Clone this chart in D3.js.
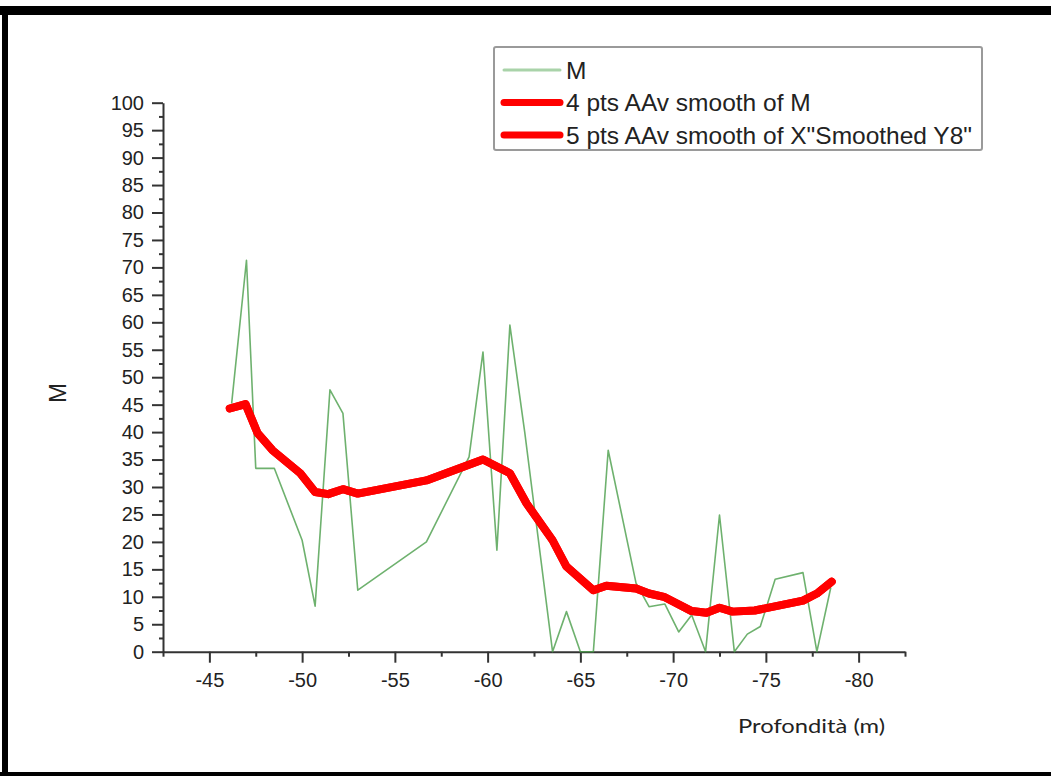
<!DOCTYPE html>
<html>
<head>
<meta charset="utf-8">
<script src="https://cdn.jsdelivr.net/npm/d3@7"></script>
<style>
  body { margin: 0; background: #fff; }
  svg { display: block; font-family: "Liberation Sans", Arial, sans-serif; }
  .axis path, .axis line { stroke: #333; stroke-width: 2; }
  .axis text { fill: #222; font-size: 20px; }
</style>
</head>
<body>
<svg id="chart" width="1051" height="776"></svg>
<script>
// depth (m) vs M, raw series
var depthM = [-46.2, -47.0, -47.5, -48.5, -50.0, -50.7, -51.5, -52.2, -53.0, -56.7,
    -59.0, -59.75, -60.5, -61.2, -62.0, -63.5, -64.25, -65.0, -65.7, -66.5,
    -68.0, -68.7, -69.55, -70.3, -71.0, -71.75, -72.5, -73.3, -74.0, -74.7,
    -75.5, -77.0, -77.75, -78.5];
var valuesM = [45.2, 71.3, 33.4, 33.4, 20.3, 8.3, 47.7, 43.4, 11.2, 20.0,
    35.5, 54.6, 18.5, 59.5, 40.0, 0, 7.3, 0, 0, 36.7,
    12.5, 8.2, 8.7, 3.6, 6.7, 0, 24.9, 0, 3.2, 4.6,
    13.2, 14.4, 0, 11.7];

// smoothed curve (the two smooth series overlap in the picture)
var depthSmooth = [-46.1, -46.95, -47.6, -48.4, -49.9, -50.7, -51.4, -52.2, -53.0, -56.7,
    -59.75, -61.2, -62.1, -63.5, -64.25, -65.7, -66.4, -68.0, -68.7, -69.5,
    -71.0, -71.8, -72.5, -73.2, -74.4, -77.0, -77.75, -78.55];
var valuesSmooth4 = [44.3, 45.1, 39.8, 36.7, 32.5, 29.1, 28.7, 29.6, 28.8, 31.2,
    35.0, 32.5, 27.0, 20.3, 15.5, 11.2, 12.0, 11.5, 10.6, 10.0,
    7.4, 7.1, 8.0, 7.3, 7.5, 9.3, 10.6, 12.75];
var valuesSmooth5 = valuesSmooth4.slice();

var xMajor = [-45, -50, -55, -60, -65, -70, -75, -80];
var xMinor = [-42.5, -47.5, -52.5, -57.5, -62.5, -67.5, -72.5, -77.5, -82.5];
var yMajor = d3.range(0, 101, 5);
var yMinor = d3.range(2.5, 100, 5);

var legendLabels = ["M", "4 pts AAv smooth of M", "5 pts AAv smooth of X\"Smoothed Y8\""];

var svg = d3.select("#chart");

// outer frame
svg.append("rect").attr("x", 0).attr("y", 6).attr("width", 1051).attr("height", 9).attr("fill", "#000");
svg.append("rect").attr("x", 2).attr("y", 6).attr("width", 6).attr("height", 770).attr("fill", "#000");
svg.append("rect").attr("x", 0).attr("y", 772).attr("width", 1051).attr("height", 4).attr("fill", "#000");

var x = d3.scaleLinear().domain([-42.5, -82.5]).range([163, 905]);
var y = d3.scaleLinear().domain([0, 100]).range([651.7, 102.7]);

// axes
svg.append("g").attr("class", "axis")
    .attr("transform", "translate(0,651.7)")
    .call(d3.axisBottom(x).tickValues(xMinor).tickSize(5).tickSizeOuter(0).tickFormat(""));
svg.append("g").attr("class", "axis")
    .attr("transform", "translate(0,651.7)")
    .call(d3.axisBottom(x).tickValues(xMajor).tickSize(11).tickSizeOuter(0).tickPadding(10).tickFormat(d3.format("d")))
    .select(".domain").remove();

svg.append("g").attr("class", "axis")
    .attr("transform", "translate(163,0)")
    .call(d3.axisLeft(y).tickValues(yMinor).tickSize(4).tickSizeOuter(0).tickFormat(""));
svg.append("g").attr("class", "axis")
    .attr("transform", "translate(163,0)")
    .call(d3.axisLeft(y).tickValues(yMajor).tickSize(11).tickSizeOuter(0).tickPadding(8))
    .select(".domain").remove();

svg.selectAll(".axis text").text(function() { return this.textContent.replace("−", "-"); });

// axis titles
svg.append("text")
    .attr("transform", "translate(66,393) rotate(-90)")
    .attr("text-anchor", "middle")
    .attr("font-size", 24)
    .attr("fill", "#222")
    .text("M");

svg.append("text")
    .attr("x", 738).attr("y", 733)
    .attr("font-family", "Lato, 'Open Sans', sans-serif")
    .attr("font-size", 20)
    .attr("textLength", 147)
    .attr("lengthAdjust", "spacingAndGlyphs")
    .attr("fill", "#222")
    .text("Profondità (m)");

// lines
var line = d3.line()
    .x(function(d) { return x(d[0]); })
    .y(function(d) { return y(d[1]); });

svg.append("path")
    .datum(d3.zip(depthM, valuesM))
    .attr("d", line)
    .attr("fill", "none")
    .attr("stroke", "#4a9e4a")
    .attr("stroke-opacity", 0.8)
    .attr("stroke-width", 1.6)
    .attr("stroke-linejoin", "round");

svg.append("path")
    .datum(d3.zip(depthSmooth, valuesSmooth5))
    .attr("d", line)
    .attr("fill", "none")
    .attr("stroke", "#ff0000")
    .attr("stroke-width", 8)
    .attr("stroke-linejoin", "round")
    .attr("stroke-linecap", "round");

svg.append("path")
    .datum(d3.zip(depthSmooth, valuesSmooth4))
    .attr("d", line)
    .attr("fill", "none")
    .attr("stroke", "#ff0000")
    .attr("stroke-width", 8)
    .attr("stroke-linejoin", "round")
    .attr("stroke-linecap", "round");

// legend
var legend = svg.append("g").attr("transform", "translate(494,47)");
legend.append("rect")
    .attr("width", 488).attr("height", 103)
    .attr("rx", 2)
    .attr("fill", "#fff")
    .attr("stroke", "#9a9a9a")
    .attr("stroke-width", 2);

var legendStyle = [
    { stroke: "#a9d3a9", width: 3 },
    { stroke: "#ff0000", width: 7 },
    { stroke: "#ff0000", width: 7 }
];

var items = legend.selectAll(".item")
    .data(legendLabels)
    .enter().append("g")
    .attr("class", "item")
    .attr("transform", function(d, i) { return "translate(0," + (23 + i * 32.5) + ")"; });

items.append("line")
    .attr("x1", 10).attr("x2", 66)
    .attr("stroke", function(d, i) { return legendStyle[i].stroke; })
    .attr("stroke-width", function(d, i) { return legendStyle[i].width; })
    .attr("stroke-linecap", "round");

items.append("text")
    .attr("x", 72)
    .attr("dy", "0.36em")
    .attr("font-size", 24.5)
    .attr("fill", "#222")
    .text(function(d) { return d; });
</script>
</body>
</html>
